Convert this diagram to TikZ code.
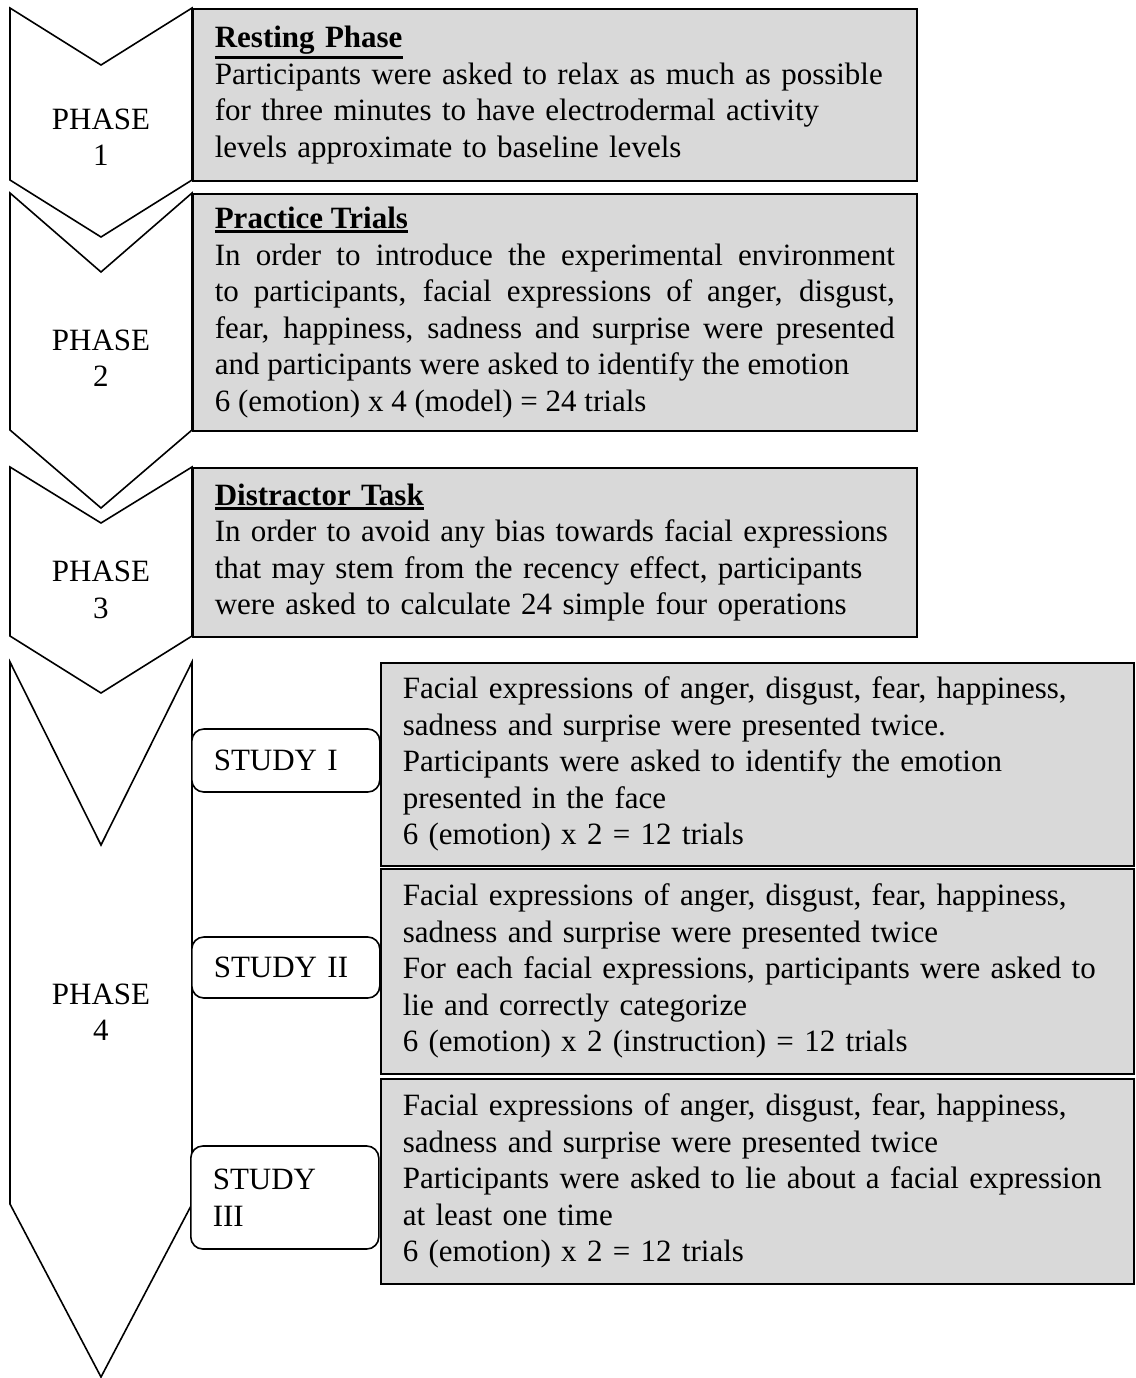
\documentclass[tikz,border=0pt]{standalone}
\usepackage{fontspec}
\setmainfont{Liberation Serif}

\newcommand{\ulhead}[1]{\leavevmode\vtop{\hbox{\textbf{#1}}\kern0.8pt\hrule height 1.4pt}}

\tikzset{
	chevron/.style={line width=0.8pt, line join=miter},
	taskbox/.style={draw, line width=0.8pt, fill=black!15, anchor=north west, inner xsep=11pt, inner ysep=0pt, font=\fontsize{15.5}{18.25}\selectfont},
	studylabel/.style={draw, line width=0.8pt, fill=white, rounded corners=6pt, anchor=west, inner xsep=11pt, inner ysep=0pt, text width=72pt, align=left, font=\fontsize{15.5}{18.25}\selectfont},
	phaselabel/.style={align=center, inner sep=0pt, font=\fontsize{15.5}{18.25}\selectfont}
}

\begin{document}
\begin{tikzpicture}[x=0.5pt,y=0.5pt,yscale=-1,xscale=1]
	\useasboundingbox (0,0) rectangle (1136,1378);
	% phase chevrons
	\draw [chevron] (10,8) -- (101,65) -- (192,8) -- (192,180) -- (101,237) -- (10,180) -- cycle ;
	\draw [chevron] (10,193) -- (101,272) -- (192,193) -- (192,430) -- (101,508) -- (10,430) -- cycle ;
	\draw [chevron] (10,467) -- (101,523) -- (192,467) -- (192,636) -- (101,693) -- (10,636) -- cycle ;
	\draw [chevron] (10,662) -- (101,845) -- (192,662) -- (192,1204) -- (101,1377) -- (10,1204) -- cycle ;
	\node (p1) [phaselabel] at (101,137) {PHASE\\1};
	\node (p2) [phaselabel] at (101,358) {PHASE\\2};
	\node (p3) [phaselabel] at (101,590) {PHASE\\3};
	\node (p4) [phaselabel] at (101,1012) {PHASE\\4};
	% phase boxes
	\node (rest) [taskbox, text width=340pt, minimum height=86pt, align=left] at (192,8) {\ulhead{Resting Phase}\\Participants were asked to relax as much as possible\\for three minutes to have electrodermal activity\\levels approximate to baseline levels};
	\node (practice) [taskbox, text width=340pt, minimum height=118.5pt, align=justify] at (192,193) {\ulhead{Practice Trials}\\In order to introduce the experimental environment\linebreak to participants, facial expressions of anger, disgust,\linebreak fear, happiness, sadness and surprise were presented\linebreak and participants were asked to identify the emotion\\6 (emotion) x 4 (model) = 24 trials};
	\node (distract) [taskbox, text width=340pt, minimum height=84.5pt, align=left] at (192,467) {\ulhead{Distractor Task}\\In order to avoid any bias towards facial expressions\\that may stem from the recency effect, participants\\were asked to calculate 24 simple four operations};
	% study boxes
	\node (s1text) [taskbox, text width=354.5pt, minimum height=101.5pt, align=left] at (380,662) {Facial expressions of anger, disgust, fear, happiness,\\sadness and surprise were presented twice.\\Participants were asked to identify the emotion\\presented in the face\\6 (emotion) x 2 = 12 trials};
	\node (s2text) [taskbox, text width=354.5pt, minimum height=102.5pt, align=left] at (380,868) {Facial expressions of anger, disgust, fear, happiness,\\sadness and surprise were presented twice\\For each facial expressions, participants were asked to\\lie and correctly categorize\\6 (emotion) x 2 (instruction) = 12 trials};
	\node (s3text) [taskbox, text width=354.5pt, minimum height=102.5pt, align=left] at (380,1078) {Facial expressions of anger, disgust, fear, happiness,\\sadness and surprise were presented twice\\Participants were asked to lie about a facial expression\\at least one time\\6 (emotion) x 2 = 12 trials};
	\node (s1) [studylabel, minimum height=31.5pt] at (191,760.5) {STUDY I};
	\node (s2) [studylabel, minimum height=30.5pt] at (191,967.5) {STUDY II};
	\node (s3) [studylabel, minimum height=51.5pt] at (190,1197.5) {STUDY\\III};
\end{tikzpicture}
\end{document}
